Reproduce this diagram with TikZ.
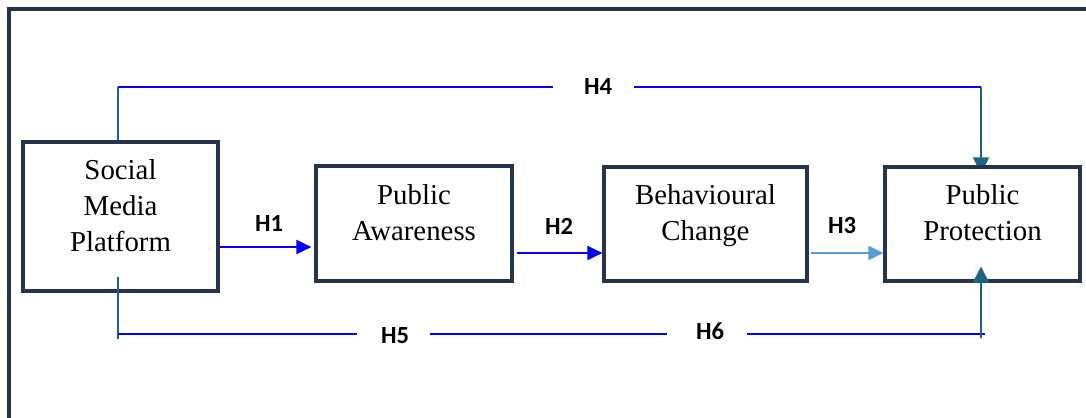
\documentclass[tikz,border=0pt]{standalone}
\usepackage{fontspec}
\setmainfont{Liberation Serif}
\newfontfamily\hypfont{Carlito}
\usepackage{xcolor}
\usetikzlibrary{
    arrows.meta,
    positioning,
    calc,
    backgrounds,
}

\definecolor{framenavy}{RGB}{38,52,80}
\definecolor{linkteal}{RGB}{31,99,133}
\definecolor{lightlink}{RGB}{91,155,213}

\newcommand{\boxtext}[1]{\raisebox{6pt}[\height][\depth]{\begin{tabular}{@{}c@{}}#1\end{tabular}}}

\begin{document}
\begin{tikzpicture}[
    x=0.025cm, y=-0.025cm,
    construct/.style={draw=framenavy, line width=2.2pt, fill=white, inner sep=0pt, font=\fontsize{20.5}{25.6}\selectfont},
    hyp/.style={font=\hypfont\bfseries\fontsize{17.5}{21}\selectfont, inner sep=1pt},
    hline/.style={blue, line width=1.4pt},
    link/.style={linkteal, line width=1.4pt},
    headarrow/.style={-{Triangle[length=0.375cm, width=0.35cm]}},
    tealarrow/.style={-{Triangle[length=0.4cm, width=0.4cm]}},
]

\useasboundingbox (0,0) rectangle (1086,418);
\clip (0,0) rectangle (1086,418);
\draw[framenavy, line width=2.2pt] (9,440) -- (9,9) -- (1100,9);

\node[construct, minimum width=4.875cm, minimum height=3.725cm] (smp) at (120.5,216.5) {\boxtext{Social\\Media\\Platform}};
\node[construct, minimum width=4.9cm, minimum height=2.875cm] (pa) at (414,223.5) {\boxtext{Public\\Awareness}};
\node[construct, minimum width=5.075cm, minimum height=2.85cm] (bc) at (705.5,224) {\boxtext{Behavioural\\Change}};
\node[construct, minimum width=4.875cm, minimum height=2.85cm] (pp) at (982.5,224) {\boxtext{Public\\Protection}};

\node[hyp] (h1) at (269,224) {H1};
\node[hyp] (h2) at (559,226) {H2};
\node[hyp] (h3) at (842,226) {H3};
\node[hyp] (h4) at (598,87) {H4};
\node[hyp] (h5) at (395,336) {H5};
\node[hyp] (h6) at (710,331) {H6};

\coordinate (h1row) at (0,247);
\coordinate (h23row) at (0,253);
\coordinate (h4left) at (118,87);
\coordinate (h4right) at (981,87);
\coordinate (h5left) at (118,334);
\coordinate (h6right) at (981,334);

% direct paths
\draw[hline, headarrow, shorten >=0.075cm] (smp.east |- h1row) -- (pa.west |- h1row);
\draw[hline, headarrow, shorten <=0.075cm] (pa.east |- h23row) -- (bc.west |- h23row);
\draw[lightlink, line width=1.2pt, headarrow, shorten <=0.05cm] (bc.east |- h23row) -- (pp.west |- h23row);

% H4 over the top
\draw[link] (smp.north -| h4left) -- (h4left);
\draw[hline] (h4left) -- ([xshift=-0.74cm]h4.west);
\draw[hline] ([xshift=0.515cm]h4.east) -- (h4right);
\begin{scope}[on background layer]
    \draw[link, tealarrow, shorten >=-0.2cm] (h4right) -- (h4right |- pp.north);
\end{scope}

% H5 and H6 along the bottom
\draw[link] ([yshift=0.4cm]smp.south -| h5left) -- ([yshift=-0.125cm]h5left);
\draw[hline] (h5left) -- ([xshift=-0.565cm]h5.west |- h5left);
\draw[hline] ([xshift=0.49cm]h5.east |- h5left) -- ([xshift=-0.69cm]h6.west |- h6right);
\draw[hline] ([xshift=0.54cm]h6.east |- h6right) -- ([xshift=0.1cm]h6right);
\draw[link, tealarrow] ([yshift=-0.1cm]h6right) -- ([yshift=0.4cm]pp.south -| h6right);

\end{tikzpicture}
\end{document}
